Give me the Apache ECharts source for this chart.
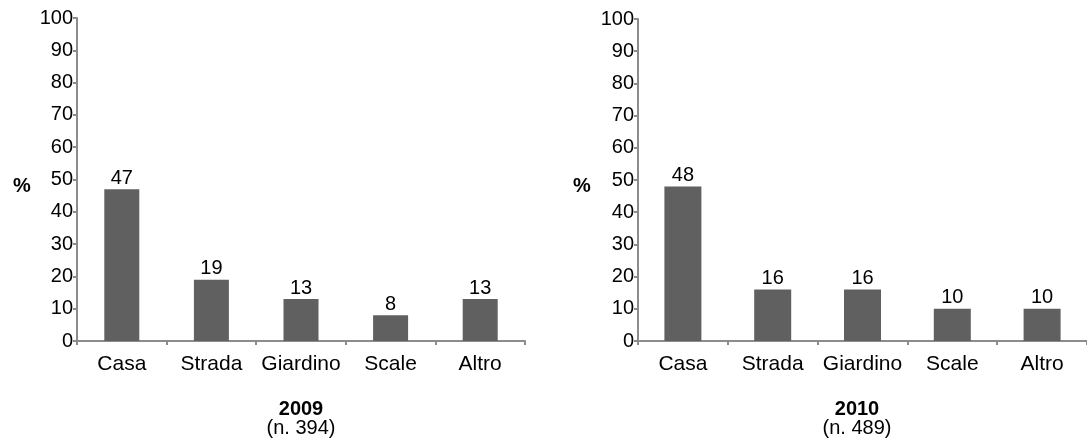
<!DOCTYPE html>
<html>
<head>
<meta charset="utf-8">
<script src="https://cdn.jsdelivr.net/npm/echarts@6/dist/echarts.min.js"></script>
<style>html,body{margin:0;padding:0;background:#fff}#c{width:1087px;height:446px}</style>
</head>
<body>
<div id="c"></div>
<script>
const categories = ['Casa', 'Strada', 'Giardino', 'Scale', 'Altro'];
const values2009 = [47, 19, 13, 8, 13];
const values2010 = [48, 16, 16, 10, 10];
const yTicks = [0, 10, 20, 30, 40, 50, 60, 70, 80, 90, 100];
const titles = ['2009', '2010'];
const subtitles = ['(n. 394)', '(n. 489)'];

const FONT = '"Liberation Sans", Arial, sans-serif';
const AX = '#8c8c8c';
const BAR = '#606060';
const FS = 20;

function xAxis(i) {
  return {
    type: 'category', gridIndex: i, data: categories,
    axisLine: { lineStyle: { color: AX, width: 2 } },
    axisTick: { show: true, length: 4, lineStyle: { color: AX, width: 2 } },
    axisLabel: { color: '#000', fontSize: 21, fontFamily: FONT, margin: 13, interval: 0 }
  };
}
function yAxis(i) {
  return {
    type: 'value', gridIndex: i, min: yTicks[0], max: yTicks[yTicks.length - 1], interval: 10,
    axisLine: { show: true, lineStyle: { color: AX, width: 2 } },
    axisTick: { show: true, length: 4, lineStyle: { color: AX, width: 2 } },
    splitLine: { show: false },
    axisLabel: { color: '#000', fontSize: FS, fontFamily: FONT, margin: 4 }
  };
}
function bars(i, data, w) {
  return {
    type: 'bar', xAxisIndex: i, yAxisIndex: i, data: data, barWidth: w,
    itemStyle: { color: BAR },
    label: { show: true, position: 'top', distance: 1, color: '#000', fontSize: FS, fontFamily: FONT },
    silent: true, animation: false
  };
}

const chart = echarts.init(document.getElementById('c'), null, { renderer: 'canvas' });
chart.setOption({
  animation: false,
  grid: [
    { left: 77, top: 18, width: 448, height: 323 },
    { left: 638, top: 19, width: 455, height: 322 }
  ],
  xAxis: [xAxis(0), xAxis(1)],
  yAxis: [yAxis(0), yAxis(1)],
  series: [bars(0, values2009, 35), bars(1, values2010, 37)],
  graphic: [
    { type: 'text', x: 22, y: 186, style: { text: '%', font: 'bold 20px ' + FONT, fill: '#000', textAlign: 'center', textVerticalAlign: 'middle' } },
    { type: 'text', x: 582, y: 186, style: { text: '%', font: 'bold 20px ' + FONT, fill: '#000', textAlign: 'center', textVerticalAlign: 'middle' } },
    { type: 'text', x: 301, y: 409, style: { text: titles[0], font: 'bold 20px ' + FONT, fill: '#000', textAlign: 'center', textVerticalAlign: 'middle' } },
    { type: 'text', x: 301, y: 428, style: { text: subtitles[0], font: '20px ' + FONT, fill: '#000', textAlign: 'center', textVerticalAlign: 'middle' } },
    { type: 'text', x: 857, y: 409, style: { text: titles[1], font: 'bold 20px ' + FONT, fill: '#000', textAlign: 'center', textVerticalAlign: 'middle' } },
    { type: 'text', x: 857, y: 428, style: { text: subtitles[1], font: '20px ' + FONT, fill: '#000', textAlign: 'center', textVerticalAlign: 'middle' } }
  ]
});
</script>
</body>
</html>
